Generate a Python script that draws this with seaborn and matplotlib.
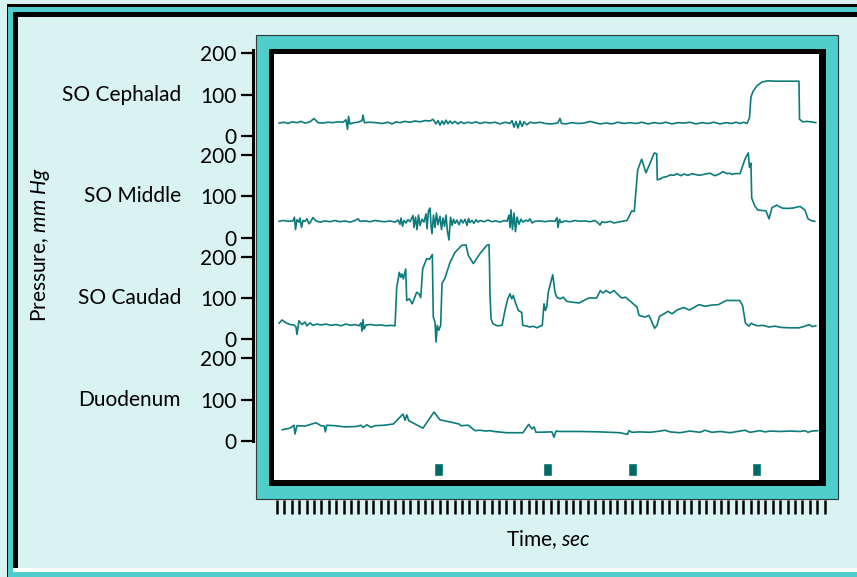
import numpy as np
import matplotlib
matplotlib.use("Agg")
import matplotlib.pyplot as plt
from matplotlib.patches import Rectangle
import seaborn as sns

# ---------------- data (time in s, pressure in mm Hg) ----------------
channels = ["SO Cephalad", "SO Middle", "SO Caudad", "Duodenum"]
tick_values = [0, 100, 200]
tick_labels = ["0", "100", "200"]

ceph_t = [0.27, 0.95, 1.49, 2.03, 2.70, 3.24, 3.78, 4.46, 5.00, 5.54,
          6.22, 6.89, 7.57, 8.24, 8.92, 9.32, 9.54, 9.66, 9.86, 10.41,
          10.95, 11.49, 11.62, 11.82, 12.57, 13.38, 14.19, 15.00, 15.54, 16.08,
          16.62, 17.30, 17.97, 18.65, 19.32, 20.00, 20.68, 21.08, 21.49, 21.76,
          22.03, 22.30, 22.57, 22.84, 23.11, 23.38, 23.65, 24.05, 24.46, 24.86,
          25.27, 25.81, 26.35, 26.89, 27.43, 28.11, 28.78, 29.46, 30.14, 30.81,
          31.49, 31.76, 32.03, 32.30, 32.57, 32.84, 33.11, 33.38, 33.78, 34.19,
          34.86, 35.54, 36.22, 36.89, 37.57, 37.97, 38.24, 38.45, 39.05, 39.86,
          40.68, 41.49, 42.30, 42.97, 43.65, 44.46, 45.27, 46.08, 46.89, 47.70,
          48.51, 49.32, 50.14, 50.95, 51.76, 52.57, 53.38, 54.19, 55.00, 55.81,
          56.62, 57.43, 58.24, 59.05, 59.86, 60.68, 61.49, 62.03, 62.57, 63.11,
          63.51, 63.85, 64.05, 64.32, 64.86, 65.54, 66.35, 67.30, 70.54, 70.61,
          71.08, 71.62, 72.16, 72.84]
ceph_v = [32, 34, 31, 35, 33, 36, 32, 35, 43, 33,
          32, 34, 33, 35, 34, 40, 17, 48, 30, 33,
          34, 38, 51, 33, 34, 33, 31, 34, 30, 35,
          33, 36, 34, 37, 35, 38, 37, 41, 30, 38,
          27, 37, 29, 39, 30, 37, 31, 36, 30, 35,
          31, 34, 32, 35, 31, 34, 32, 34, 30, 34,
          31, 38, 22, 36, 20, 37, 24, 35, 28, 34,
          32, 34, 31, 30, 31, 33, 43, 31, 30, 33,
          31, 32, 36, 33, 30, 32, 30, 34, 31, 33,
          31, 34, 30, 33, 31, 34, 30, 33, 32, 34,
          30, 33, 31, 34, 30, 33, 31, 34, 31, 34,
          31, 45, 95, 108, 122, 131, 134, 133, 133, 41,
          35, 36, 35, 33]

mid_t = [0.27, 0.81, 1.49, 2.16, 2.36, 2.50, 2.70, 2.97, 3.11, 3.31,
         3.51, 3.78, 4.05, 4.32, 4.59, 4.86, 5.27, 5.81, 6.49, 7.16,
         7.84, 8.51, 9.19, 9.86, 10.54, 10.95, 11.22, 11.89, 12.57, 13.24,
         13.92, 14.59, 15.27, 15.95, 16.35, 16.62, 16.76, 16.96, 17.16, 17.43,
         17.70, 17.97, 18.38, 18.51, 18.72, 18.92, 19.12, 19.32, 19.59, 19.86,
         20.14, 20.27, 20.47, 20.68, 20.81, 20.95, 21.15, 21.35, 21.55, 21.76,
         22.03, 22.23, 22.43, 22.64, 22.84, 23.04, 23.24, 23.45, 23.65, 23.85,
         24.05, 24.32, 24.59, 24.86, 25.14, 25.41, 25.68, 25.88, 26.08, 26.35,
         26.62, 26.89, 27.16, 27.43, 27.97, 28.51, 29.05, 29.59, 30.14, 30.68,
         31.08, 31.35, 31.49, 31.62, 31.82, 32.03, 32.23, 32.43, 32.70, 32.97,
         33.24, 33.65, 33.92, 34.19, 34.46, 34.86, 35.54, 36.22, 36.89, 37.57,
         37.84, 37.97, 38.18, 38.38, 38.92, 39.59, 40.27, 40.95, 41.62, 42.30,
         42.97, 43.38, 43.65, 43.92, 44.32, 45.00, 45.54, 46.08, 46.62, 47.30,
         47.93, 48.28, 48.47, 48.74, 49.28, 49.86, 50.41, 50.99, 51.31, 51.39,
         51.76, 52.16, 52.70, 53.11, 53.65, 54.05, 54.59, 55.00, 55.54, 56.08,
         56.76, 57.16, 57.84, 58.51, 59.19, 59.86, 60.27, 60.81, 61.22, 61.49,
         61.89, 62.57, 63.24, 63.69, 63.85, 64.05, 64.15, 64.59, 65.00, 65.68,
         66.08, 66.49, 66.89, 67.53, 68.24, 68.92, 69.73, 70.68, 71.35, 71.76,
         72.30, 72.70]
mid_v = [40, 42, 40, 41, 50, 20, 44, 38, 48, 25,
         42, 40, 46, 34, 40, 49, 41, 38, 41, 39,
         42, 39, 41, 38, 42, 46, 40, 41, 39, 42,
         40, 39, 41, 38, 43, 33, 48, 28, 42, 36,
         44, 39, 54, 25, 50, 20, 55, 30, 45, 38,
         58, 22, 65, 72, 30, 10, 55, 25, 60, 32,
         52, 20, 48, 28, 55, 15, -5, 50, 30, 45,
         35, 43, 32, 44, 36, 45, 30, 47, 37, 42,
         35, 44, 38, 42, 39, 43, 39, 41, 38, 42,
         40, 55, 25, 68, 20, 60, 15, 50, 33, 45,
         38, 43, 40, 46, 36, 40, 41, 39, 41, 40,
         49, 25, 45, 37, 41, 39, 42, 40, 41, 39,
         42, 36, 31, 39, 37, 40, 36, 38, 40, 42,
         65, 64, 104, 164, 190, 157, 180, 205, 203, 140,
         142, 146, 148, 152, 151, 155, 150, 154, 151, 155,
         152, 151, 154, 156, 150, 155, 160, 155, 156, 153,
         155, 155, 190, 205, 170, 180, 96, 76, 67, 66,
         65, 46, 73, 79, 72, 71, 72, 76, 67, 46,
         41, 40]

caud_t = [0.27, 0.68, 1.22, 1.76, 2.30, 2.57, 2.70, 2.97, 3.38, 3.78,
          4.05, 4.46, 4.86, 5.41, 5.95, 6.62, 7.30, 7.97, 8.65, 9.32,
          10.00, 10.54, 11.08, 11.35, 11.49, 11.62, 11.76, 12.03, 12.70, 13.38,
          14.05, 14.73, 15.41, 15.95, 16.18, 16.53, 16.72, 16.89, 17.07, 17.39,
          17.53, 17.88, 18.28, 18.88, 19.19, 19.42, 19.69, 20.23, 20.58, 20.99,
          21.12, 21.35, 21.49, 21.66, 21.85, 22.12, 22.30, 22.70, 23.38, 24.05,
          24.96, 25.54, 25.85, 26.53, 27.43, 28.34, 28.65, 28.72, 28.78, 28.92,
          29.19, 29.73, 30.41, 30.81, 31.18, 31.49, 31.72, 31.93, 32.16, 32.61,
          33.07, 33.20, 33.78, 34.19, 34.59, 35.14, 35.54, 35.85, 36.08, 36.26,
          36.45, 36.66, 37.26, 37.57, 37.80, 38.24, 38.69, 39.15, 39.86, 40.81,
          42.12, 43.18, 43.70, 44.05, 44.46, 45.00, 45.54, 46.08, 46.58, 47.09,
          47.51, 48.65, 48.92, 49.73, 50.27, 50.76, 51.03, 51.35, 51.70, 52.32,
          52.84, 53.38, 54.16, 54.95, 55.73, 57.03, 57.84, 58.78, 59.65, 60.70,
          62.53, 62.91, 63.31, 63.78, 64.05, 64.86, 65.68, 66.49, 67.30, 68.11,
          69.32, 70.54, 71.35, 71.95, 72.30, 72.84]
caud_v = [39, 47, 40, 36, 35, 30, 12, 45, 36, 42,
          33, 40, 34, 37, 35, 37, 34, 36, 33, 37,
          34, 36, 33, 40, 20, 48, 25, 35, 36, 34,
          35, 33, 34, 33, 126, 162, 150, 158, 146, 170,
          94, 98, 86, 114, 110, 101, 171, 195, 193, 205,
          54, 42, -6, 34, 22, 34, 135, 148, 186, 210,
          227, 228, 203, 183, 207, 227, 229, 180, 110, 50,
          38, 33, 34, 70, 98, 110, 98, 106, 92, 70,
          65, 34, 32, 30, 32, 28, 32, 34, 86, 70,
          78, 114, 156, 114, 102, 98, 102, 92, 90, 88,
          100, 100, 118, 112, 118, 112, 118, 108, 100, 102,
          96, 78, 58, 54, 58, 38, 27, 34, 56, 62,
          68, 62, 72, 77, 71, 84, 80, 83, 84, 94,
          94, 82, 39, 32, 39, 33, 34, 30, 32, 29,
          28, 28, 32, 36, 31, 33]

duod_t = [0.68, 1.76, 2.30, 2.43, 2.70, 3.78, 5.27, 5.95, 6.39, 6.53,
          6.72, 7.84, 9.19, 10.68, 11.35, 11.62, 12.16, 12.70, 13.24, 14.46,
          15.72, 17.03, 17.30, 17.54, 17.80, 19.73, 21.22, 22.03, 23.38, 24.59,
          24.86, 25.85, 26.76, 27.43, 28.24, 28.78, 29.32, 31.04, 33.24, 34.01,
          34.46, 34.73, 35.00, 37.16, 37.43, 37.70, 38.24, 40.95, 43.65, 46.35,
          47.36, 47.57, 47.97, 49.05, 50.41, 51.76, 52.43, 53.11, 54.46, 55.81,
          57.16, 57.84, 58.78, 59.86, 61.22, 62.57, 63.24, 63.92, 65.27, 65.95,
          66.62, 67.97, 69.32, 70.68, 71.35, 71.76, 72.30, 73.11]
duod_v = [27, 31, 38, 17, 37, 36, 44, 37, 36, 22,
          38, 37, 34, 35, 38, 33, 39, 33, 37, 38,
          41, 65, 50, 63, 49, 31, 70, 51, 46, 41,
          37, 38, 25, 26, 24, 25, 23, 20, 20, 40,
          29, 34, 21, 22, 9, 24, 23, 23, 22, 20,
          16, 25, 21, 22, 21, 24, 26, 22, 20, 24,
          21, 26, 21, 23, 20, 24, 26, 21, 25, 22,
          24, 23, 24, 23, 25, 21, 24, 25]

stimulus_t = [21.82, 36.55, 48.04, 64.80]
time_ticks = list(range(0, 75))

# ---------------- style ----------------
sns.set_style("white")
plt.rcParams["font.family"] = ["Lato", "DejaVu Sans"]
plt.rcParams["mathtext.fontset"] = "custom"
plt.rcParams["mathtext.rm"] = "Lato"
plt.rcParams["mathtext.it"] = "Lato:italic"

CYAN = "#D9F2F2"
TEAL = "#4ECDCB"
LINE = "#0C7B7C"
MARK = "#006A66"

W, H = 857, 577
fig = plt.figure(figsize=(W / 100, H / 100), dpi=100)
fig.patch.set_facecolor(CYAN)


def frame_rect(x0, y0, x1, y1, fc, ec="none", lw=0.0, z=-5):
    r = Rectangle((x0 / W, 1 - y1 / H), (x1 - x0) / W, (y1 - y0) / H,
                  transform=fig.transFigure, facecolor=fc, edgecolor=ec,
                  linewidth=lw, zorder=z)
    fig.add_artist(r)


# outer decorative border
frame_rect(7, 4, 880, 590, "black", z=-10)
frame_rect(8, 7, 880, 590, TEAL, z=-9)
frame_rect(13, 12, 880, 572, "black", z=-8)
frame_rect(13, 568, 880, 572, "white", z=-7)
frame_rect(18, 17, 880, 568, CYAN, z=-7)
# plot frame
frame_rect(256, 35, 838, 499, TEAL, ec="#2b3b3b", lw=0.8, z=-6)
frame_rect(269, 49, 826, 486, "black", z=-5)
frame_rect(274, 54, 819, 480, "white", z=-4)

ax = fig.add_axes([270 / W, 1 - 500 / H, 556 / W, 460 / H])
ax.set_facecolor("none")

spacing = 245
offsets = [3 * spacing, 2 * spacing, spacing, 0]
series = [(ceph_t, ceph_v), (mid_t, mid_v), (caud_t, caud_v), (duod_t, duod_v)]
for (t, v), off in zip(series, offsets):
    sns.lineplot(x=np.array(t), y=np.array(v) + off, ax=ax, color=LINE,
                 linewidth=1.2, estimator=None, sort=False, legend=False)

ax.bar(stimulus_t, 31, bottom=-84, width=1.2, color=MARK, align="center")

ax.set_xlim(-0.946, 74.19)
ax.set_ylim(-142.3, 967.4)

yt, yl = [], []
for off in offsets[::-1]:
    for tv, tl in zip(tick_values, tick_labels):
        yt.append(off + tv)
        yl.append(tl)
ax.set_yticks(yt)
ax.set_yticklabels(yl)
ax.set_xticks(time_ticks)
ax.set_xticklabels([])

for s in ["top", "right", "bottom"]:
    ax.spines[s].set_visible(False)
ax.spines["left"].set_visible(True)
ax.spines["left"].set_color("black")
ax.spines["left"].set_linewidth(2.2)
ax.spines["left"].set_position(("outward", 17 * 0.72))
ax.spines["left"].set_bounds(0, 943)

ax.tick_params(axis="y", left=True, direction="out", length=8.5, width=1.6,
               pad=3.5, labelsize=15, colors="black")
ax.tick_params(axis="x", bottom=True, direction="out", length=10, width=1.8,
               labelbottom=False, colors="black")

trans = ax.get_yaxis_transform()
for name, off in zip(channels, offsets):
    ax.text(-0.1601, off + 100, name, transform=trans, ha="right",
            va="center", fontsize=15, color="black")

fig.text(41 / W, 1 - 245 / H, r"Pressure, $\mathit{mm\ Hg}$", rotation=90,
         ha="center", va="center", fontsize=15, color="black")
fig.text(548 / W, 1 - 540 / H, r"Time, $\mathit{sec}$", ha="center",
         va="center", fontsize=15, color="black")

fig.savefig("out.png", dpi=100, facecolor=CYAN)
